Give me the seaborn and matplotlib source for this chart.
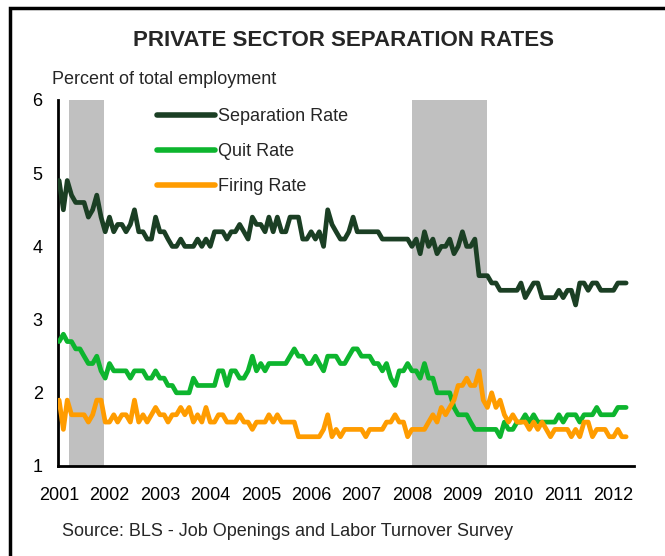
import numpy as np
import pandas as pd
import seaborn as sns
import matplotlib.pyplot as plt
import matplotlib.dates as mdates
from matplotlib.patches import Rectangle

sns.set_style("white")
plt.rcParams['font.family'] = ['Liberation Sans', 'DejaVu Sans']

# monthly JOLTS rates, Jan 2001 - Apr 2012 (percent of total employment)
separation_rate = [
    4.9, 4.5, 4.9, 4.7, 4.6, 4.6, 4.6, 4.4, 4.5, 4.7, 4.4, 4.2,
    4.4, 4.2, 4.3, 4.3, 4.2, 4.3, 4.5, 4.2, 4.2, 4.1, 4.1, 4.4,
    4.2, 4.2, 4.1, 4.0, 4.0, 4.1, 4.0, 4.0, 4.0, 4.1, 4.0, 4.1,
    4.0, 4.2, 4.2, 4.2, 4.1, 4.2, 4.2, 4.3, 4.2, 4.1, 4.4, 4.3,
    4.3, 4.2, 4.4, 4.2, 4.4, 4.2, 4.2, 4.4, 4.4, 4.4, 4.1, 4.1,
    4.2, 4.1, 4.2, 4.0, 4.5, 4.3, 4.2, 4.1, 4.1, 4.2, 4.4, 4.2,
    4.2, 4.2, 4.2, 4.2, 4.2, 4.1, 4.1, 4.1, 4.1, 4.1, 4.1, 4.1,
    4.0, 4.1, 3.9, 4.2, 4.0, 4.1, 3.9, 4.0, 4.0, 4.1, 3.9, 4.0,
    4.2, 4.0, 4.0, 4.1, 3.6, 3.6, 3.6, 3.5, 3.5, 3.4, 3.4, 3.4,
    3.4, 3.4, 3.5, 3.3, 3.4, 3.5, 3.5, 3.3, 3.3, 3.3, 3.3, 3.4,
    3.3, 3.4, 3.4, 3.2, 3.5, 3.5, 3.4, 3.5, 3.5, 3.4, 3.4, 3.4,
    3.4, 3.5, 3.5, 3.5,
]
quit_rate = [
    2.7, 2.8, 2.7, 2.7, 2.6, 2.6, 2.5, 2.4, 2.4, 2.5, 2.3, 2.2,
    2.4, 2.3, 2.3, 2.3, 2.3, 2.2, 2.3, 2.3, 2.3, 2.2, 2.2, 2.3,
    2.2, 2.2, 2.1, 2.1, 2.0, 2.0, 2.0, 2.0, 2.2, 2.1, 2.1, 2.1,
    2.1, 2.1, 2.3, 2.3, 2.1, 2.3, 2.3, 2.2, 2.2, 2.3, 2.5, 2.3,
    2.4, 2.3, 2.4, 2.4, 2.4, 2.4, 2.4, 2.5, 2.6, 2.5, 2.5, 2.4,
    2.4, 2.5, 2.4, 2.3, 2.5, 2.5, 2.5, 2.4, 2.4, 2.5, 2.6, 2.6,
    2.5, 2.5, 2.5, 2.4, 2.4, 2.3, 2.4, 2.2, 2.1, 2.3, 2.3, 2.4,
    2.3, 2.3, 2.2, 2.4, 2.2, 2.2, 2.0, 2.0, 2.0, 2.0, 1.8, 1.7,
    1.7, 1.7, 1.6, 1.5, 1.5, 1.5, 1.5, 1.5, 1.5, 1.4, 1.6, 1.5,
    1.5, 1.6, 1.6, 1.7, 1.6, 1.7, 1.6, 1.6, 1.6, 1.6, 1.6, 1.7,
    1.6, 1.7, 1.7, 1.7, 1.6, 1.7, 1.7, 1.7, 1.8, 1.7, 1.7, 1.7,
    1.7, 1.8, 1.8, 1.8,
]
firing_rate = [
    1.9, 1.5, 1.9, 1.7, 1.7, 1.7, 1.7, 1.6, 1.7, 1.9, 1.9, 1.6,
    1.6, 1.7, 1.6, 1.7, 1.7, 1.6, 1.9, 1.6, 1.7, 1.6, 1.7, 1.8,
    1.7, 1.7, 1.6, 1.7, 1.7, 1.8, 1.7, 1.8, 1.6, 1.7, 1.6, 1.8,
    1.6, 1.6, 1.7, 1.7, 1.6, 1.6, 1.6, 1.7, 1.6, 1.6, 1.5, 1.6,
    1.6, 1.6, 1.7, 1.6, 1.7, 1.6, 1.6, 1.6, 1.6, 1.4, 1.4, 1.4,
    1.4, 1.4, 1.4, 1.5, 1.7, 1.4, 1.5, 1.4, 1.5, 1.5, 1.5, 1.5,
    1.5, 1.4, 1.5, 1.5, 1.5, 1.5, 1.6, 1.6, 1.7, 1.6, 1.6, 1.4,
    1.5, 1.5, 1.5, 1.5, 1.6, 1.7, 1.6, 1.8, 1.7, 1.8, 1.9, 2.1,
    2.1, 2.2, 2.1, 2.1, 2.3, 1.9, 1.8, 2.0, 1.8, 1.9, 1.7, 1.6,
    1.7, 1.6, 1.6, 1.6, 1.5, 1.6, 1.5, 1.6, 1.5, 1.4, 1.5, 1.5,
    1.5, 1.5, 1.4, 1.5, 1.4, 1.6, 1.6, 1.4, 1.5, 1.5, 1.5, 1.4,
    1.4, 1.5, 1.4, 1.4,
]
series_names = ["Separation Rate", "Quit Rate", "Firing Rate"]
series_colors = ["#1B3F24", "#0DB52E", "#FF9C00"]
recessions = [("2001-03-15", "2001-11-25"), ("2008-01-01", "2009-07-01")]

dates = pd.date_range("2001-01-01", periods=len(separation_rate), freq="MS")
df = pd.DataFrame({"date": dates,
                   "Separation Rate": separation_rate,
                   "Quit Rate": quit_rate,
                   "Firing Rate": firing_rate})
long_df = df.melt(id_vars="date", var_name="series", value_name="rate")

fig = plt.figure(figsize=(6.65, 5.56), dpi=100)
ax = fig.add_axes([58/665, 1-466/556, (634-58)/665, (466-100)/556])

for start, end in recessions:
    ax.axvspan(pd.Timestamp(start), pd.Timestamp(end), color="#C0C0C0", lw=0, zorder=0)

sns.lineplot(data=long_df, x="date", y="rate", hue="series", hue_order=series_names,
             palette=series_colors, linewidth=3.4, ax=ax, legend=False, zorder=3)

ax.set_xlim(pd.Timestamp("2000-12-24"), pd.Timestamp("2012-05-28"))
ax.set_ylim(1, 6)
ax.set_yticks([1, 2, 3, 4, 5, 6])
ax.xaxis.set_major_locator(mdates.YearLocator())
ax.xaxis.set_major_formatter(mdates.DateFormatter("%Y"))
ax.tick_params(axis="both", length=0, labelsize=13, colors="black")
ax.tick_params(axis="y", pad=11)
ax.tick_params(axis="x", pad=15)
ax.set_xlabel("")
ax.set_ylabel("")
for s in ["top", "right"]:
    ax.spines[s].set_visible(False)
for s in ["left", "bottom"]:
    ax.spines[s].set_color("black")
    ax.spines[s].set_linewidth(2)

handles = [plt.Line2D([], [], color=c, lw=4) for c in series_colors]
fig.legend(handles, series_names, loc="upper left", bbox_to_anchor=(157/665, 1-108/556),
           frameon=False, fontsize=13, handlelength=3.2, handletextpad=0.2,
           labelspacing=1.0, borderpad=0, borderaxespad=0)

fig.text(343/665, 1-40/556, "PRIVATE SECTOR SEPARATION RATES", ha="center", va="center",
         fontsize=16, fontweight="bold")
fig.text(52/665, 1-80/556, "Percent of total employment", ha="left", va="center", fontsize=13)
fig.text(62/665, 1-532/556, "Source: BLS - Job Openings and Labor Turnover Survey",
         ha="left", va="center", fontsize=13)

fig.patches.append(Rectangle((10/665, -0.1), 1.5, 1-8/556+0.1, fill=False, lw=2.5,
                             edgecolor="black", transform=fig.transFigure))

fig.savefig("out.png", dpi=100)
